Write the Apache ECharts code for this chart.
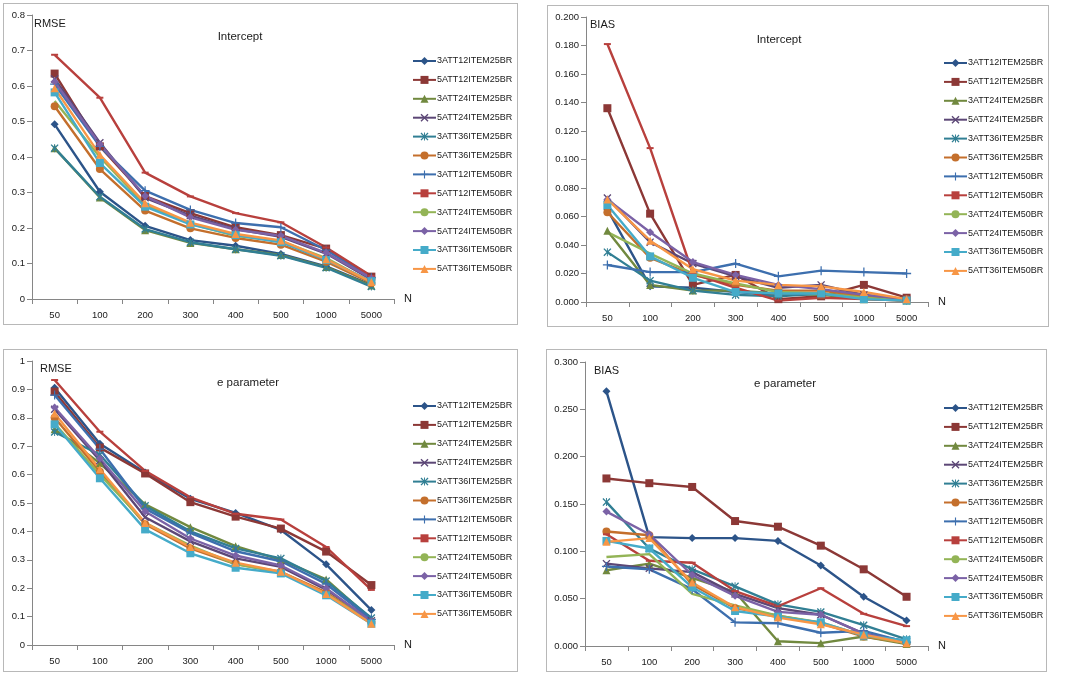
<!DOCTYPE html>
<html lang="en">
<head>
<meta charset="utf-8">
<style>
  html, body { margin: 0; background: #fff; width: 1084px; height: 678px; overflow: hidden; }
  .panel { position: absolute; border: 1px solid #b8b8b8; box-sizing: border-box; background: #fff; }
</style>
</head>
<body>
<div id="p1" class="panel" style="left:3px; top:3px; width:515px; height:322px;"></div>
<div id="p2" class="panel" style="left:547px; top:5px; width:502px; height:322px;"></div>
<div id="p3" class="panel" style="left:3px; top:349px; width:515px; height:323px;"></div>
<div id="p4" class="panel" style="left:546px; top:349px; width:501px; height:323px;"></div>

<script src="https://cdn.jsdelivr.net/npm/echarts@6/dist/echarts.min.js"></script>
<script>
// sample sizes on the x axis
var categories = ['50', '100', '200', '300', '400', '500', '1000', '5000'];

var seriesNames = [
  '3ATT12ITEM25BR', '5ATT12ITEM25BR', '3ATT24ITEM25BR', '5ATT24ITEM25BR',
  '3ATT36ITEM25BR', '5ATT36ITEM25BR', '3ATT12ITEM50BR', '5ATT12ITEM50BR',
  '3ATT24ITEM50BR', '5ATT24ITEM50BR', '3ATT36ITEM50BR', '5ATT36ITEM50BR'
];

// RMSE, intercept (one row per series, same order as seriesNames)
var rmseIntercept = [
  [0.492, 0.302, 0.206, 0.166, 0.150, 0.127, 0.092, 0.040],
  [0.635, 0.430, 0.290, 0.242, 0.202, 0.180, 0.142, 0.063],
  [0.425, 0.286, 0.194, 0.158, 0.140, 0.124, 0.090, 0.038],
  [0.620, 0.440, 0.285, 0.235, 0.197, 0.175, 0.128, 0.055],
  [0.425, 0.288, 0.197, 0.160, 0.140, 0.122, 0.088, 0.035],
  [0.543, 0.366, 0.249, 0.199, 0.172, 0.153, 0.105, 0.045],
  [0.605, 0.430, 0.305, 0.251, 0.214, 0.202, 0.138, 0.060],
  [0.688, 0.567, 0.356, 0.289, 0.242, 0.216, 0.145, 0.065],
  [0.558, 0.400, 0.265, 0.212, 0.178, 0.163, 0.115, 0.047],
  [0.612, 0.436, 0.290, 0.230, 0.195, 0.178, 0.130, 0.058],
  [0.582, 0.383, 0.260, 0.210, 0.180, 0.160, 0.110, 0.050],
  [0.594, 0.406, 0.270, 0.215, 0.183, 0.165, 0.112, 0.048]
];

// BIAS, intercept
var biasIntercept = [
  [0.065, 0.011, 0.010, 0.007, 0.005, 0.006, 0.003, 0.001],
  [0.136, 0.062, 0.012, 0.019, 0.002, 0.004, 0.012, 0.003],
  [0.050, 0.012, 0.008, 0.008, 0.006, 0.005, 0.002, 0.001],
  [0.073, 0.042, 0.027, 0.018, 0.010, 0.012, 0.005, 0.002],
  [0.035, 0.015, 0.008, 0.005, 0.004, 0.006, 0.003, 0.001],
  [0.063, 0.031, 0.019, 0.012, 0.008, 0.008, 0.004, 0.002],
  [0.026, 0.021, 0.021, 0.027, 0.018, 0.022, 0.021, 0.020],
  [0.181, 0.108, 0.020, 0.010, 0.001, 0.003, 0.002, 0.001],
  [0.049, 0.034, 0.020, 0.013, 0.007, 0.006, 0.003, 0.001],
  [0.072, 0.049, 0.028, 0.019, 0.012, 0.009, 0.005, 0.002],
  [0.068, 0.032, 0.017, 0.007, 0.006, 0.006, 0.002, 0.001],
  [0.072, 0.043, 0.023, 0.015, 0.012, 0.011, 0.007, 0.002]
];

// RMSE, e parameter
var rmseE = [
  [0.906, 0.709, 0.607, 0.515, 0.465, 0.405, 0.284, 0.123],
  [0.892, 0.695, 0.604, 0.503, 0.452, 0.410, 0.329, 0.211],
  [0.760, 0.640, 0.495, 0.415, 0.348, 0.300, 0.231, 0.090],
  [0.830, 0.650, 0.450, 0.365, 0.305, 0.275, 0.195, 0.085],
  [0.750, 0.670, 0.490, 0.400, 0.340, 0.305, 0.225, 0.095],
  [0.800, 0.610, 0.425, 0.340, 0.285, 0.258, 0.185, 0.080],
  [0.880, 0.690, 0.480, 0.395, 0.330, 0.295, 0.215, 0.090],
  [0.933, 0.751, 0.613, 0.520, 0.462, 0.442, 0.345, 0.194],
  [0.780, 0.600, 0.430, 0.350, 0.285, 0.255, 0.180, 0.080],
  [0.836, 0.657, 0.470, 0.375, 0.315, 0.280, 0.200, 0.083],
  [0.777, 0.587, 0.407, 0.323, 0.272, 0.252, 0.175, 0.075],
  [0.815, 0.619, 0.430, 0.345, 0.290, 0.258, 0.180, 0.075]
];

// BIAS, e parameter
var biasE = [
  [0.269, 0.115, 0.114, 0.114, 0.111, 0.085, 0.052, 0.027],
  [0.177, 0.172, 0.168, 0.132, 0.126, 0.106, 0.081, 0.052],
  [0.080, 0.087, 0.072, 0.057, 0.005, 0.003, 0.010, 0.002],
  [0.087, 0.082, 0.078, 0.055, 0.040, 0.033, 0.013, 0.005],
  [0.152, 0.103, 0.081, 0.063, 0.044, 0.036, 0.022, 0.007],
  [0.121, 0.117, 0.065, 0.040, 0.032, 0.024, 0.010, 0.003],
  [0.084, 0.081, 0.060, 0.025, 0.024, 0.014, 0.016, 0.004],
  [0.118, 0.090, 0.088, 0.058, 0.042, 0.061, 0.034, 0.021],
  [0.094, 0.097, 0.055, 0.043, 0.032, 0.025, 0.011, 0.003],
  [0.142, 0.118, 0.075, 0.053, 0.036, 0.033, 0.013, 0.004],
  [0.111, 0.103, 0.062, 0.037, 0.031, 0.025, 0.011, 0.006],
  [0.110, 0.114, 0.067, 0.041, 0.030, 0.023, 0.012, 0.003]
];

// excel-ish look
var colors = ['#2C5489', '#8C3836', '#71893F', '#5C4776', '#317F94', '#C46F2C',
              '#3D6FAE', '#B8403D', '#93B456', '#7B62A6', '#45ABC9', '#F79646'];

var X_PATH = 'path://M0,1.2L1.2,0L5,3.8L8.8,0L10,1.2L6.2,5L10,8.8L8.8,10L5,6.2L1.2,10L0,8.8L3.8,5Z';
var PLUS_PATH = 'path://M4.3,0H5.7V4.3H10V5.7H5.7V10H4.3V5.7H0V4.3H4.3Z';
var STAR_PATH = 'path://M0,1.2L1.2,0L5,3.8L8.8,0L10,1.2L6.2,5L10,8.8L8.8,10L5,6.2L1.2,10L0,8.8L3.8,5Z' +
                'M4.4,0H5.6V10H4.4Z';
var symbols = ['diamond', 'rect', 'triangle', X_PATH, STAR_PATH, 'circle',
               PLUS_PATH, 'rect', 'none', 'diamond', 'rect', 'triangle'];
var symbolSizes = [8, 8, 8, 8, 8, 8, 9, [7, 2], 1, 8, 8, 8];

var FONT = 'Liberation Sans';

function makePanel(id, rows, cfg) {
  var chart = echarts.init(document.getElementById(id), null, { renderer: 'canvas' });

  var series = rows.map(function (vals, i) {
    return {
      name: seriesNames[i],
      type: 'line',
      data: vals,
      symbol: symbols[i],
      symbolSize: symbolSizes[i],
      showAllSymbol: true,
      color: colors[i],
      lineStyle: { width: 2.4, color: colors[i] },
      itemStyle: { color: colors[i] },
      emphasis: { disabled: true }
    };
  });

  var option = {
    animation: false,
    textStyle: { fontFamily: FONT },
    title: [
      {
        text: cfg.yName, left: cfg.yNameX, top: cfg.yNameY, padding: 0,
        textStyle: { fontSize: 11, fontWeight: 'normal', color: '#1a1a1a', fontFamily: FONT }
      },
      {
        text: cfg.title, left: cfg.titleX, top: cfg.titleY + 1, textAlign: 'center', padding: 0,
        textStyle: { fontSize: 11.5, fontWeight: 'normal', color: '#1a1a1a', fontFamily: FONT }
      }
    ],
    legend: {
      orient: 'vertical',
      left: cfg.legendX,
      top: cfg.legendY,
      padding: 0,
      itemWidth: 23,
      itemHeight: 10,
      itemGap: 8.9,
      selectedMode: false,
      data: seriesNames,
      textStyle: { fontSize: 9, lineHeight: 10, color: '#1a1a1a', fontFamily: FONT, padding: [0, 0, 0, -4] }
    },
    grid: { left: cfg.gl, top: cfg.gt, width: cfg.gw, height: cfg.gh, containLabel: false },
    xAxis: {
      type: 'category',
      data: categories,
      boundaryGap: true,
      name: 'N',
      nameGap: 10,
      nameTextStyle: { fontSize: 11, color: '#1a1a1a', fontFamily: FONT },
      axisLine: { lineStyle: { color: '#868686', width: 1 } },
      axisTick: { show: true, length: 5, lineStyle: { color: '#868686' } },
      axisLabel: { margin: 11, fontSize: 9.5, color: '#1a1a1a', fontFamily: FONT },
      splitLine: { show: false }
    },
    yAxis: {
      type: 'value',
      min: 0,
      max: cfg.yMax,
      interval: cfg.yStep,
      axisLine: { show: true, lineStyle: { color: '#868686', width: 1 } },
      axisTick: { show: true, length: 5, lineStyle: { color: '#868686' } },
      axisLabel: {
        margin: 7, fontSize: 9.5, color: '#1a1a1a', fontFamily: FONT,
        formatter: cfg.yFmt
      },
      splitLine: { show: false }
    },
    series: series
  };

  chart.setOption(option);
  return chart;
}

function fmtShort(v) { return String(Math.round(v * 10) / 10); }
function fmtThree(v) { return v.toFixed(3); }

makePanel('p1', rmseIntercept, {
  title: 'Intercept', titleX: 236, titleY: 26,
  yName: 'RMSE', yNameX: 30, yNameY: 14,
  legendX: 408, legendY: 52,
  gl: 28, gt: 11, gw: 362, gh: 284,
  yMax: 0.8, yStep: 0.1, yFmt: fmtShort
});

makePanel('p2', biasIntercept, {
  title: 'Intercept', titleX: 231, titleY: 27,
  yName: 'BIAS', yNameX: 42, yNameY: 13,
  legendX: 395, legendY: 52,
  gl: 38, gt: 11, gw: 342, gh: 285,
  yMax: 0.2, yStep: 0.02, yFmt: fmtThree
});

makePanel('p3', rmseE, {
  title: 'e parameter', titleX: 244, titleY: 26,
  yName: 'RMSE', yNameX: 36, yNameY: 13,
  legendX: 408, legendY: 51,
  gl: 28, gt: 11, gw: 362, gh: 284,
  yMax: 1, yStep: 0.1, yFmt: fmtShort
});

makePanel('p4', biasE, {
  title: 'e parameter', titleX: 238, titleY: 27,
  yName: 'BIAS', yNameX: 47, yNameY: 15,
  legendX: 396, legendY: 53,
  gl: 38, gt: 12, gw: 343, gh: 284,
  yMax: 0.3, yStep: 0.05, yFmt: fmtThree
});
</script>
</body>
</html>
